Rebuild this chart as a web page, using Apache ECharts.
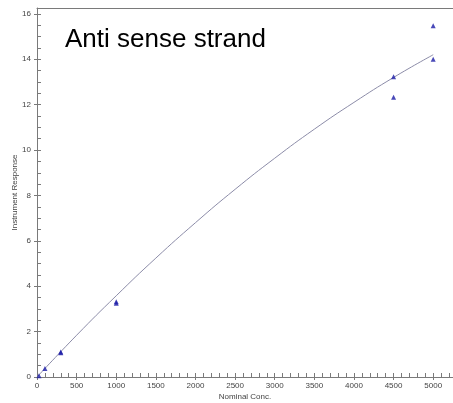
<!DOCTYPE html>
<html>
<head>
<meta charset="utf-8">
<script src="https://cdn.jsdelivr.net/npm/echarts@6/dist/echarts.min.js"></script>
<style>
  html, body { margin: 0; padding: 0; background: #fff; }
  #chart { width: 453px; height: 403px; }
</style>
</head>
<body>
<div id="chart"></div>
<script>
// measured points (nominal conc, response)
var pointConc = [25, 100, 300, 300, 1000, 1000, 4500, 4500, 5000, 5000];
var pointResp = [0.06, 0.37, 1.1, 1.07, 3.25, 3.32, 13.23, 12.33, 15.48, 14.0];

// fitted curve
var curveConc = [0, 500, 1000, 1500, 2000, 2500, 3000, 3500, 4000, 4500, 5000];
var curveResp = [0, 1.84, 3.58, 5.24, 6.8, 8.27, 9.64, 10.92, 12.1, 13.2, 14.2];

var titleText = 'Anti sense strand';
var xName = 'Nominal Conc.';
var yName = 'Instrument Response';

var lineCol = '#7a7a7a';
var labelCol = '#444';
var font = 'Liberation Sans, Arial, sans-serif';

function pairs(xs, ys) {
    return xs.map(function (x, i) { return [x, ys[i]]; });
}

var myChart = echarts.init(document.getElementById('chart'));

var xBase = { type: 'value', min: 0, max: 5250, gridIndex: 0 };
var yBase = { type: 'value', min: 0, max: 16.26, gridIndex: 0 };

var option = {
    animation: false,
    backgroundColor: '#fff',
    title: {
        text: titleText,
        left: 65,
        top: 27,
        padding: 0,
        textStyle: { fontFamily: font, fontSize: 26, fontWeight: 'normal', color: '#000' }
    },
    grid: { left: 37, right: 0, top: 8, bottom: 26, containLabel: false, outerBoundsMode: 'none' },
    xAxis: [
        // main axis: labels + short outside ticks at 500s
        Object.assign({}, xBase, {
            interval: 500,
            position: 'bottom',
            name: xName,
            nameLocation: 'middle',
            nameGap: 16,
            nameMoveOverlap: false,
            nameTextStyle: { fontFamily: font, fontSize: 8, color: labelCol },
            axisLine: { show: true, lineStyle: { color: lineCol, width: 1 } },
            axisTick: { show: true, inside: false, length: 3, lineStyle: { color: lineCol } },
            axisLabel: {
                fontFamily: font, fontSize: 8, color: labelCol, margin: 5, showMaxLabel: false,
                formatter: function (v) { return String(v); }
            },
            splitLine: { show: false }
        }),
        // minor inside ticks every 100
        Object.assign({}, xBase, {
            interval: 100,
            position: 'bottom',
            axisLine: { show: false },
            axisTick: { show: true, inside: true, length: 4, lineStyle: { color: lineCol } },
            axisLabel: { show: false },
            splitLine: { show: false }
        }),
        // top border line
        Object.assign({}, xBase, {
            position: 'top',
            axisLine: { show: true, lineStyle: { color: lineCol, width: 1 } },
            axisTick: { show: false },
            axisLabel: { show: false },
            splitLine: { show: false }
        })
    ],
    yAxis: [
        Object.assign({}, yBase, {
            interval: 2,
            position: 'left',
            name: yName,
            nameLocation: 'middle',
            nameGap: 18,
            nameMoveOverlap: false,
            nameTextStyle: { fontFamily: font, fontSize: 8, color: labelCol },
            axisLine: { show: true, lineStyle: { color: lineCol, width: 1 } },
            axisTick: { show: true, inside: false, length: 3, lineStyle: { color: lineCol } },
            axisLabel: { fontFamily: font, fontSize: 8, color: labelCol, margin: 6, showMaxLabel: false },
            splitLine: { show: false }
        }),
        Object.assign({}, yBase, {
            interval: 0.5,
            position: 'left',
            axisLine: { show: false },
            axisTick: { show: true, inside: true, length: 4, lineStyle: { color: lineCol } },
            axisLabel: { show: false },
            splitLine: { show: false }
        })
    ],
    series: [{
        type: 'line',
        data: pairs(curveConc, curveResp),
        smooth: true,
        showSymbol: false,
        lineStyle: { color: '#8c8ca8', width: 1 },
        z: 2
    }, {
        type: 'scatter',
        data: pairs(pointConc, pointResp),
        symbol: 'triangle',
        symbolSize: 5,
        itemStyle: { color: '#1c1ca6' },
        z: 3
    }]
};

myChart.setOption(option);
</script>
</body>
</html>
